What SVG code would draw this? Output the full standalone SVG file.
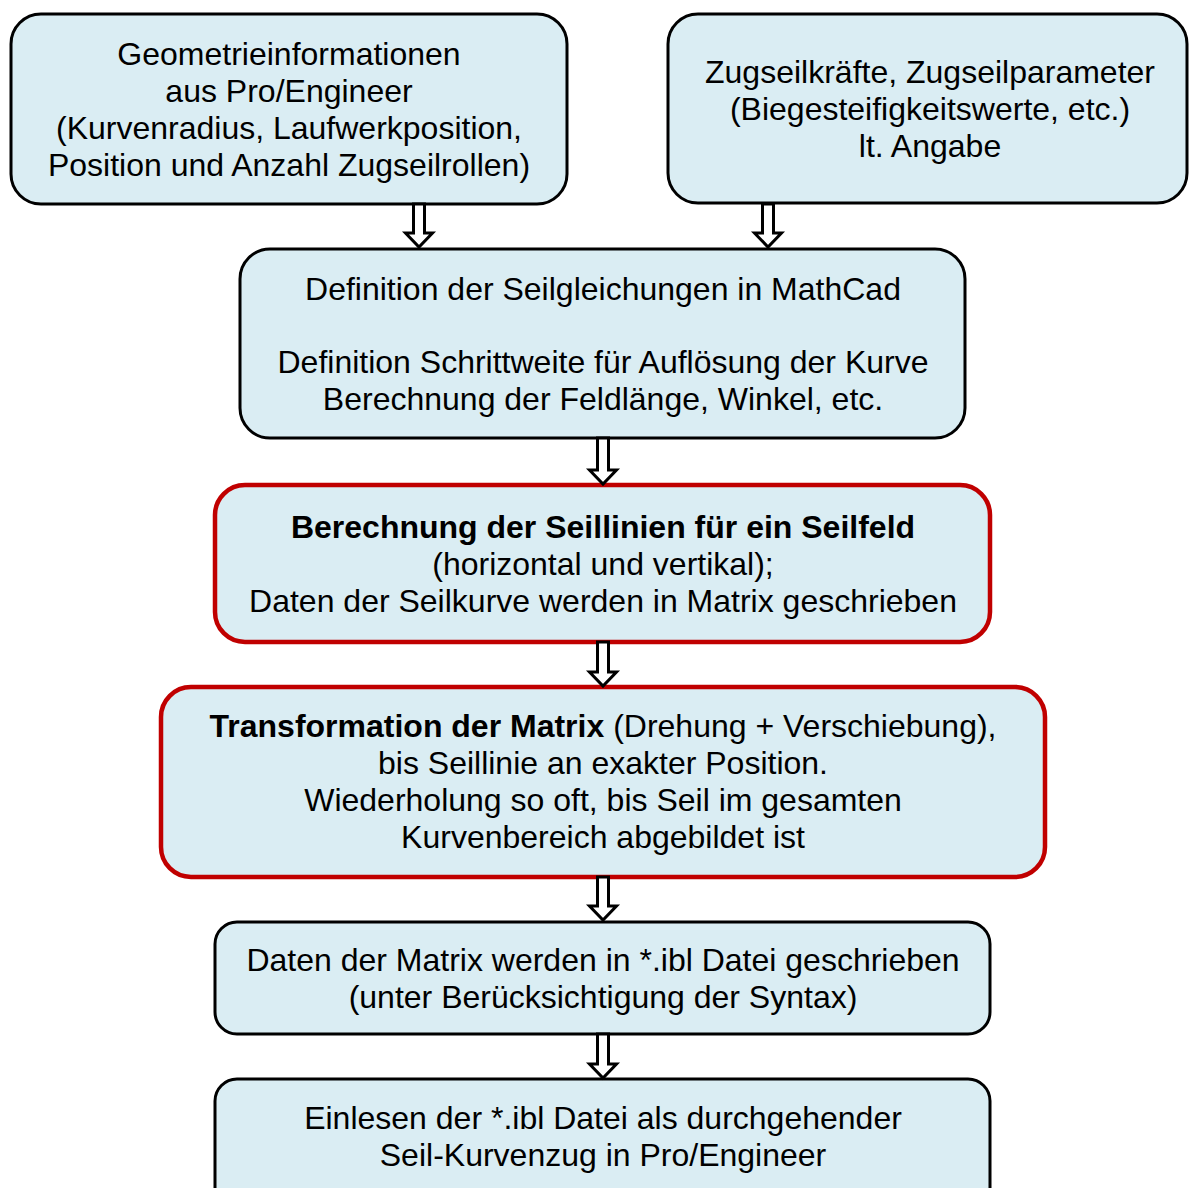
<svg xmlns="http://www.w3.org/2000/svg" width="1189" height="1188" viewBox="0 0 1189 1188">
  <style>
    .box { fill: #DAEDF3; stroke: #000; stroke-width: 3; }
    .hl { fill: #DAEDF3; stroke: #C00000; stroke-width: 4.5; }
    .t { font-family: "Liberation Sans", Arial, sans-serif; font-size: 32px; fill: #000; text-anchor: middle; }
    .b { font-weight: bold; }
    .arrow { fill: #fff; stroke: #000; stroke-width: 3; stroke-linejoin: miter; }
  </style>
  <rect width="1189" height="1188" fill="#fff"/>

  <g id="geometry">
    <rect class="box" x="11" y="14" width="556" height="190" rx="30"/>
    <text class="t" x="289" y="65">Geometrieinformationen</text>
    <text class="t" x="289" y="102">aus Pro/Engineer</text>
    <text class="t" x="289" y="139">(Kurvenradius, Laufwerkposition,</text>
    <text class="t" x="289" y="176">Position und Anzahl Zugseilrollen)</text>
  </g>

  <g id="rope-parameters">
    <rect class="box" x="668" y="14" width="519" height="189" rx="30"/>
    <text class="t" x="930" y="83">Zugseilkräfte, Zugseilparameter</text>
    <text class="t" x="930" y="120">(Biegesteifigkeitswerte, etc.)</text>
    <text class="t" x="930" y="157">lt. Angabe</text>
  </g>

  <g id="equations">
    <rect class="box" x="240" y="249" width="725" height="189" rx="30"/>
    <text class="t" x="603" y="300">Definition der Seilgleichungen in MathCad</text>
    <text class="t" x="603" y="373">Definition Schrittweite für Auflösung der Kurve</text>
    <text class="t" x="603" y="410">Berechnung der Feldlänge, Winkel, etc.</text>
  </g>

  <g id="rope-lines">
    <rect class="hl" x="215" y="485" width="775" height="157" rx="30"/>
    <text class="t b" x="603" y="538">Berechnung der Seillinien für ein Seilfeld</text>
    <text class="t" x="603" y="575">(horizontal und vertikal);</text>
    <text class="t" x="603" y="612">Daten der Seilkurve werden in Matrix geschrieben</text>
  </g>

  <g id="transformation">
    <rect class="hl" x="161" y="687" width="884" height="190" rx="30"/>
    <text class="t" x="603" y="737"><tspan class="b">Transformation der Matrix</tspan> (Drehung + Verschiebung),</text>
    <text class="t" x="603" y="774">bis Seillinie an exakter Position.</text>
    <text class="t" x="603" y="811">Wiederholung so oft, bis Seil im gesamten</text>
    <text class="t" x="603" y="848">Kurvenbereich abgebildet ist</text>
  </g>

  <g id="ibl-export">
    <rect class="box" x="215" y="922" width="775" height="112" rx="22"/>
    <text class="t" x="603" y="971">Daten der Matrix werden in *.ibl Datei geschrieben</text>
    <text class="t" x="603" y="1008">(unter Berücksichtigung der Syntax)</text>
  </g>

  <g id="ibl-import">
    <rect class="box" x="215" y="1079" width="775" height="140" rx="22"/>
    <text class="t" x="603" y="1129">Einlesen der *.ibl Datei als durchgehender</text>
    <text class="t" x="603" y="1166">Seil-Kurvenzug in Pro/Engineer</text>
  </g>

  <g id="connectors">
    <!-- hollow block arrows: shaft half-width 5.5, head half-width 13.5, head length 14 -->
    <polygon class="arrow" points="413.5,204 424.5,204 424.5,233 432.5,233 419,247 405.5,233 413.5,233"/>
    <polygon class="arrow" points="762.5,204 773.5,204 773.5,233 781.5,233 768,247 754.5,233 762.5,233"/>
    <polygon class="arrow" points="597.5,438 608.5,438 608.5,470 616.5,470 603,484 589.5,470 597.5,470"/>
    <polygon class="arrow" points="597.5,642 608.5,642 608.5,672 616.5,672 603,686 589.5,672 597.5,672"/>
    <polygon class="arrow" points="597.5,877 608.5,877 608.5,906 616.5,906 603,920 589.5,906 597.5,906"/>
    <polygon class="arrow" points="597.5,1034 608.5,1034 608.5,1064 616.5,1064 603,1078 589.5,1064 597.5,1064"/>
  </g>
</svg>
